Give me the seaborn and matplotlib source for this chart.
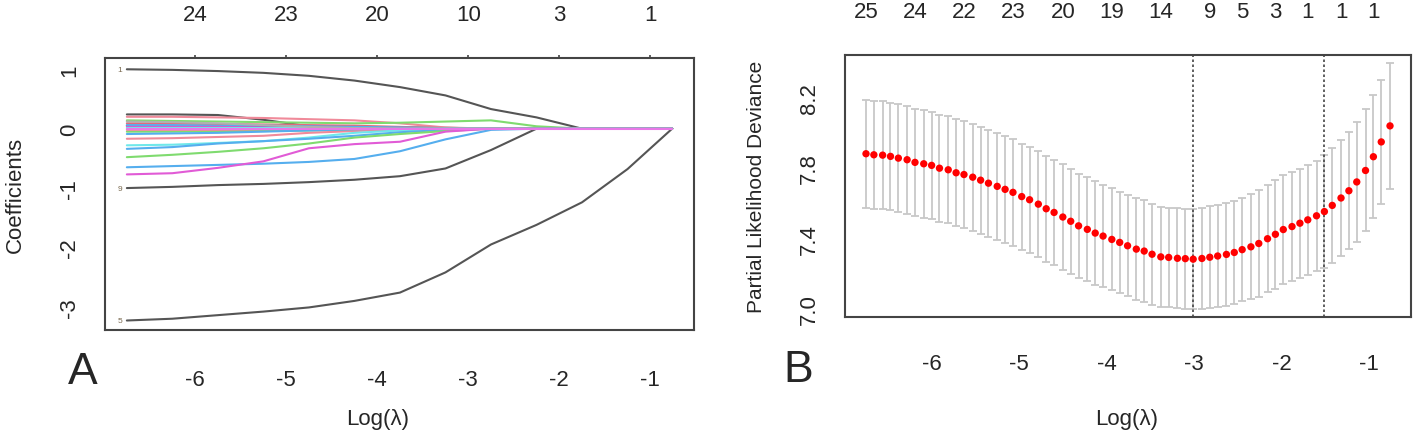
import seaborn as sns
import matplotlib.pyplot as plt
import pandas as pd
import numpy as np

sns.set_style("white")
plt.rcParams['font.family'] = ['Liberation Sans', 'DejaVu Sans']
plt.rcParams['axes.unicode_minus'] = False

# ---- panel A: lasso coefficient paths (values read at these log(lambda) knots)
knots = [-6.75, -6.25, -5.75, -5.25, -4.75, -4.25, -3.75, -3.25, -2.75, -2.25, -1.75, -1.25, -0.76]

path_names = ["v25", "v1", "v9", "v5", "v17", "v2", "v3", "v10", "v12", "v4", "v20",
              "v11", "v13", "v21", "v18", "v19", "v22", "v15", "v14", "v7", "v23", "v6"]
path_colors = ["#555555", "#555555", "#555555", "#555555", "#555555", "#f08a9a", "#7fdb6f",
               "#e5687c", "#55aeee", "#d65bd0", "#6fe8ea", "#7fdb6f", "#f08a9a", "#6fe8ea",
               "#55aeee", "#7fdb6f", "#55aeee", "#e15bd6", "#f08a9a", "#55aeee", "#b0b0b0",
               "#e878e8"]
path_values = [
    [0.24, 0.24, 0.23, 0.15, 0.04, 0.02, 0.01, 0, 0, 0, 0, 0, 0],
    [1.00, 0.99, 0.97, 0.94, 0.89, 0.81, 0.70, 0.56, 0.33, 0.19, 0, 0, 0],
    [-1.00, -0.98, -0.95, -0.93, -0.90, -0.86, -0.80, -0.67, -0.36, 0, 0, 0, 0],
    [-3.23, -3.20, -3.14, -3.08, -3.01, -2.90, -2.76, -2.42, -1.95, -1.62, -1.24, -0.68, 0],
    [0.05, 0.05, 0.05, 0.04, 0.04, 0.03, 0.02, 0.015, 0, 0, 0, 0, 0],
    [0.20, 0.20, 0.19, 0.18, 0.16, 0.14, 0.09, 0.02, 0, 0, 0, 0, 0],
    [0.14, 0.13, 0.12, 0.11, 0.10, 0.09, 0.10, 0.12, 0.14, 0.04, 0, 0, 0],
    [0.09, 0.09, 0.08, 0.07, 0.06, 0.05, 0.03, 0.01, 0, 0, 0, 0, 0],
    [0.06, 0.06, 0.05, 0.05, 0.04, 0.03, 0.02, 0.01, 0, 0, 0, 0, 0],
    [0.03, 0.03, 0.03, 0.02, 0.02, 0.01, 0, 0, 0, 0, 0, 0, 0],
    [0.01, 0.01, 0.01, 0.01, 0.01, 0, 0, 0, 0, 0, 0, 0, 0],
    [-0.05, -0.05, -0.04, -0.04, -0.03, -0.02, -0.01, 0, 0, 0, 0, 0, 0],
    [-0.17, -0.16, -0.14, -0.12, -0.07, -0.04, -0.01, 0, 0, 0, 0, 0, 0],
    [-0.28, -0.27, -0.24, -0.21, -0.15, -0.07, -0.03, 0, 0, 0, 0, 0, 0],
    [-0.34, -0.31, -0.25, -0.21, -0.17, -0.12, -0.06, -0.02, 0, 0, 0, 0, 0],
    [-0.48, -0.44, -0.39, -0.33, -0.25, -0.15, -0.09, -0.04, 0, 0, 0, 0, 0],
    [-0.65, -0.63, -0.61, -0.59, -0.56, -0.51, -0.38, -0.18, -0.02, 0, 0, 0, 0],
    [-0.77, -0.75, -0.66, -0.55, -0.33, -0.26, -0.22, -0.05, 0, 0, 0, 0, 0],
    [-0.02, -0.02, -0.02, -0.01, -0.01, 0, 0, 0, 0, 0, 0, 0, 0],
    [-0.09, -0.08, -0.07, -0.05, -0.03, -0.01, 0, 0, 0, 0, 0, 0, 0],
    [0.12, 0.11, 0.09, 0.06, 0.03, 0.01, 0, 0, 0, 0, 0, 0, 0],
    [0, 0, 0, 0, 0, 0, 0, 0, 0, 0, 0, 0, 0],
]
left_labels = {"v1": "1", "v9": "9", "v5": "5"}

top_a_pos = [-6, -5, -4, -3, -2, -1]
top_a_lab = ["24", "23", "20", "10", "3", "1"]

# ---- panel B: cross-validation curve
cv_loglam = [-6.75, -6.66, -6.56, -6.47, -6.38, -6.28, -6.19, -6.09, -6.00, -5.91,
             -5.81, -5.72, -5.63, -5.53, -5.44, -5.35, -5.25, -5.16, -5.07, -4.97,
             -4.88, -4.78, -4.69, -4.60, -4.50, -4.41, -4.32, -4.22, -4.13, -4.04,
             -3.94, -3.85, -3.76, -3.66, -3.57, -3.48, -3.38, -3.29, -3.19, -3.10,
             -3.01, -2.91, -2.82, -2.73, -2.63, -2.54, -2.45, -2.35, -2.26, -2.16,
             -2.07, -1.98, -1.88, -1.79, -1.70, -1.60, -1.51, -1.42, -1.32, -1.23,
             -1.14, -1.04, -0.95, -0.86, -0.76]
cv_mean = [7.880, 7.874, 7.872, 7.865, 7.855, 7.846, 7.831, 7.823, 7.814, 7.798,
           7.789, 7.772, 7.762, 7.747, 7.730, 7.713, 7.695, 7.678, 7.661, 7.637,
           7.619, 7.594, 7.568, 7.547, 7.521, 7.497, 7.471, 7.451, 7.430, 7.413,
           7.394, 7.377, 7.358, 7.339, 7.328, 7.310, 7.295, 7.292, 7.287, 7.285,
           7.282, 7.286, 7.293, 7.300, 7.309, 7.320, 7.336, 7.352, 7.371, 7.398,
           7.423, 7.450, 7.467, 7.486, 7.505, 7.528, 7.552, 7.587, 7.629, 7.670,
           7.720, 7.785, 7.863, 7.947, 8.038]
cv_se = [0.305, 0.305, 0.305, 0.305, 0.305, 0.305, 0.305, 0.305, 0.305, 0.304,
         0.304, 0.304, 0.304, 0.303, 0.303, 0.303, 0.303, 0.302, 0.302, 0.301,
         0.301, 0.300, 0.300, 0.299, 0.298, 0.297, 0.296, 0.295, 0.293, 0.291,
         0.289, 0.288, 0.287, 0.288, 0.288, 0.286, 0.284, 0.283, 0.283, 0.283,
         0.283, 0.286, 0.288, 0.290, 0.290, 0.292, 0.293, 0.297, 0.302, 0.305,
         0.308, 0.308, 0.307, 0.310, 0.312, 0.313, 0.319, 0.324, 0.328, 0.331,
         0.339, 0.346, 0.348, 0.352, 0.357]
lambda_min = -3.01
lambda_1se = -1.51

top_b_pos = [-6.75, -6.19, -5.63, -5.07, -4.50, -3.94, -3.38, -2.82, -2.45, -2.07, -1.70, -1.32, -0.95]
top_b_lab = ["25", "24", "22", "23", "20", "19", "14", "9", "5", "3", "1", "1", "1"]

W, H = 1416, 439
fig = plt.figure(figsize=(W / 100, H / 100), dpi=100)
axA = fig.add_axes([105 / W, 1 - 331 / H, (694 - 105) / W, (331 - 59) / H])
axB = fig.add_axes([845 / W, 1 - 318 / H, (1411 - 845) / W, (318 - 56) / H])

frame = "#444444"
for ax in (axA, axB):
    for s in ax.spines.values():
        s.set_color(frame)
        s.set_linewidth(1.5)
    ax.set_facecolor("white")

# panel A
rows = []
for name, vals in zip(path_names, path_values):
    for k, v in zip(knots, vals):
        rows.append({"var": name, "loglam": k, "coef": v})
paths = pd.DataFrame(rows)
sns.lineplot(data=paths, x="loglam", y="coef", hue="var", hue_order=path_names,
             palette=dict(zip(path_names, path_colors)), estimator=None, sort=False,
             linewidth=1.5, legend=False, ax=axA)
for name, txt in left_labels.items():
    y0 = path_values[path_names.index(name)][0]
    axA.text(knots[0] - 0.05, y0, txt, fontsize=6, color="#7a6a50", ha="right", va="center")

axA.set_xlim(-6.99, -0.52)
axA.set_ylim(-3.39, 1.19)
axA.set_xticks([-6, -5, -4, -3, -2, -1])
axA.set_yticks([-3, -2, -1, 0, 1])
axA.set_xlabel("")
axA.set_ylabel("Coefficients", fontsize=16, labelpad=24)
axA.tick_params(axis="x", length=12, width=1.5, color=frame, pad=16, labelsize=16)
axA.tick_params(axis="y", length=9, width=1.5, color=frame, pad=9, labelsize=16)
for lab in axA.get_yticklabels():
    lab.set_rotation(90)
    lab.set_va("center")
secA = axA.secondary_xaxis("top")
secA.set_xticks(top_a_pos)
secA.set_xticklabels(top_a_lab)
secA.tick_params(length=2.5, width=1.2, color=frame, pad=21, labelsize=16)
secA.spines["top"].set_visible(False)

# panel B
axB.errorbar(cv_loglam, cv_mean, yerr=cv_se, fmt="none", ecolor="#c8c8c8",
             elinewidth=1.3, capsize=3, capthick=1.3, zorder=1)
sns.scatterplot(x=cv_loglam, y=cv_mean, color="#ff0000", s=28, edgecolor="none",
                zorder=3, ax=axB)
axB.axvline(lambda_min, color="#444444", linestyle=(0, (1.5, 1.5)), linewidth=1.2)
axB.axvline(lambda_1se, color="#444444", linestyle=(0, (1.5, 1.5)), linewidth=1.2)
axB.set_xlim(-6.99, -0.52)
axB.set_ylim(6.954, 8.44)
axB.set_xticks([-6, -5, -4, -3, -2, -1])
yt = [7.0, 7.2, 7.4, 7.6, 7.8, 8.0, 8.2, 8.4]
axB.set_yticks(yt)
axB.set_yticklabels(["7.0", "", "7.4", "", "7.8", "", "8.2", ""])
axB.set_xlabel("")
axB.set_ylabel("Partial Likelihood Deviance", fontsize=15, labelpad=24)
axB.tick_params(axis="x", length=12, width=1.5, color=frame, pad=14, labelsize=16)
axB.tick_params(axis="y", length=9, width=1.5, color=frame, pad=9, labelsize=16)
for lab in axB.get_yticklabels():
    lab.set_rotation(90)
    lab.set_va("center")
secB = axB.secondary_xaxis("top")
secB.set_xticks(top_b_pos)
secB.set_xticklabels(top_b_lab)
secB.tick_params(length=0, pad=24, labelsize=16)
secB.spines["top"].set_visible(False)

fig.text(378 / W, 1 - 420 / H, "Log(λ)", fontsize=16, ha="center", va="center")
fig.text(1127 / W, 1 - 420 / H, "Log(λ)", fontsize=16, ha="center", va="center")
fig.text(83 / W, 1 - 372 / H, "A", fontsize=32, ha="center", va="center")
fig.text(798 / W, 1 - 370 / H, "B", fontsize=32, ha="center", va="center")

fig.savefig("out.png", dpi=100, facecolor="white")
